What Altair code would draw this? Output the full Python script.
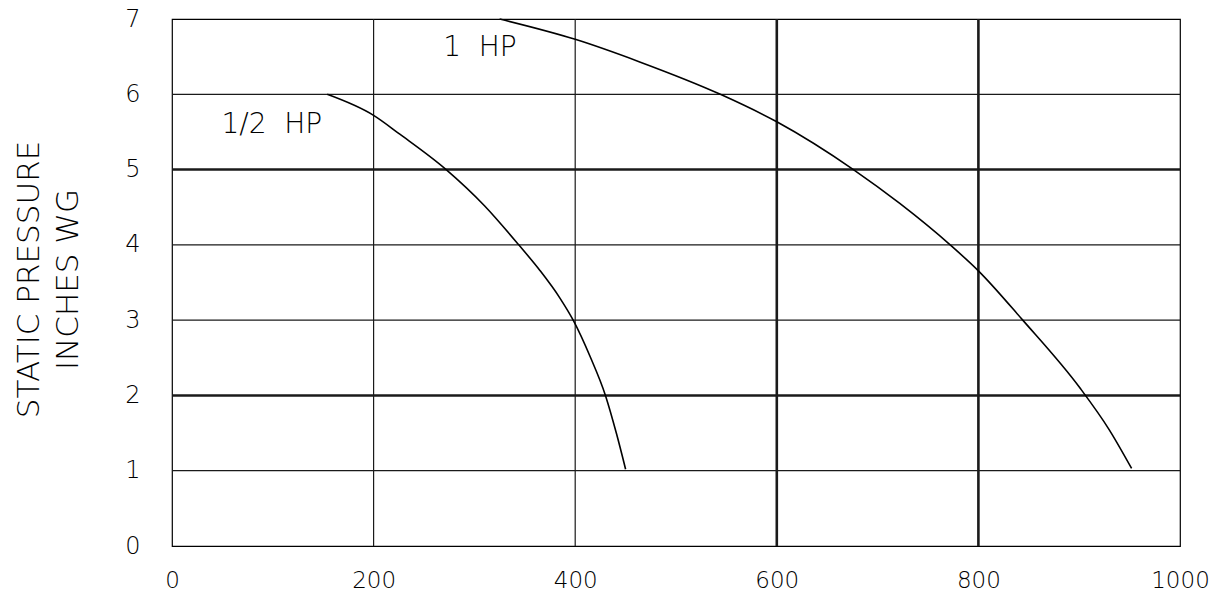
import altair as alt
import pandas as pd

# Fan curves: airflow (x) vs static pressure (inches WG)
half_hp_x = [154, 200, 226, 272, 310, 344, 365, 385, 398, 415, 430, 441, 450]
half_hp_y = [6.0, 5.72, 5.47, 5.0, 4.52, 4.0, 3.66, 3.29, 3.0, 2.51, 2.0, 1.49, 1.02]

one_hp_x = [325, 400, 464, 544, 600, 676, 722, 772, 800, 844, 901, 930, 952]
one_hp_y = [7.0, 6.73, 6.43, 6.0, 5.635, 5.0, 4.55, 4.0, 3.655, 3.0, 2.095, 1.54, 1.03]

x_ticks = [0, 200, 400, 600, 800, 1000]
y_ticks = [0, 1, 2, 3, 4, 5, 6, 7]
thin_x = [200, 400]
thick_x = [600, 800]
thin_y = [1, 3, 4, 6]
thick_y = [2, 5]

NB = "\u00a0"
label_text = ["1/2" + NB * 2 + "HP", "1" + NB * 2 + "HP"]
label_x = [49, 269]
label_y = [5.59, 6.61]

FONT = "DejaVu Sans"

curves = pd.DataFrame(
    {"x": half_hp_x + one_hp_x,
     "y": half_hp_y + one_hp_y,
     "series": ["1/2 HP"] * len(half_hp_x) + ["1 HP"] * len(one_hp_x)}
)
labels = pd.DataFrame({"text": label_text, "x": label_x, "y": label_y})

xscale = alt.Scale(domain=[0, 1000], nice=False, zero=False)
yscale = alt.Scale(domain=[0, 7], nice=False, zero=False)

x_axis = alt.Axis(values=x_ticks, format="d", labelExpr="datum.label + '" + NB + "'",
                  title=None, grid=False, ticks=False, domain=False,
                  labelFontSize=23, labelFont=FONT, labelFontWeight=300, labelColor="#000",
                  labelPadding=23, labelFlush=False)
y_axis = alt.Axis(values=y_ticks, title=["STATIC PRESSURE", "INCHES WG"], grid=False,
                  ticks=False, domain=False, labelFontSize=24, labelFont=FONT,
                  labelFontWeight=300, labelColor="#000", labelPadding=32,
                  titleFont=FONT, titleFontSize=31, titleFontWeight=300, titleColor="#000",
                  titleLineHeight=39, titleAngle=270, titleBaseline="middle",
                  titleAlign="center", titleX=-143, titleY=260)

def vrules(vals, w):
    return alt.Chart(pd.DataFrame({"v": vals})).mark_rule(color="#1a1a1a", strokeWidth=w).encode(
        x=alt.X("v:Q", scale=xscale, axis=x_axis))

def hrules(vals, w):
    return alt.Chart(pd.DataFrame({"v": vals})).mark_rule(color="#1a1a1a", strokeWidth=w).encode(
        y=alt.Y("v:Q", scale=yscale, axis=y_axis))

lines = alt.Chart(curves).mark_line(color="#000", strokeWidth=1.6, interpolate="monotone").encode(
    x=alt.X("x:Q", scale=xscale, axis=x_axis),
    y=alt.Y("y:Q", scale=yscale, axis=y_axis),
    detail="series:N",
)

text = alt.Chart(labels).mark_text(align="left", baseline="middle", fontSize=28, font=FONT,
                                   fontWeight=300, color="#000").encode(
    x=alt.X("x:Q", scale=xscale, axis=x_axis), y=alt.Y("y:Q", scale=yscale, axis=y_axis),
    text="text:N")

chart = alt.layer(
    vrules(thin_x, 1.2), hrules(thin_y, 1.2),
    vrules(thick_x, 2.6), hrules(thick_y, 2.6),
    lines, text,
).properties(
    width=1008, height=527,
    autosize=alt.AutoSizeParams(type="none"),
    padding={"left": 164, "top": 11, "right": 29, "bottom": 45},
).configure(background="white").configure_view(stroke="#000", strokeWidth=1.2)

chart.save("out.html", embed_options={"renderer": "svg", "actions": False})
